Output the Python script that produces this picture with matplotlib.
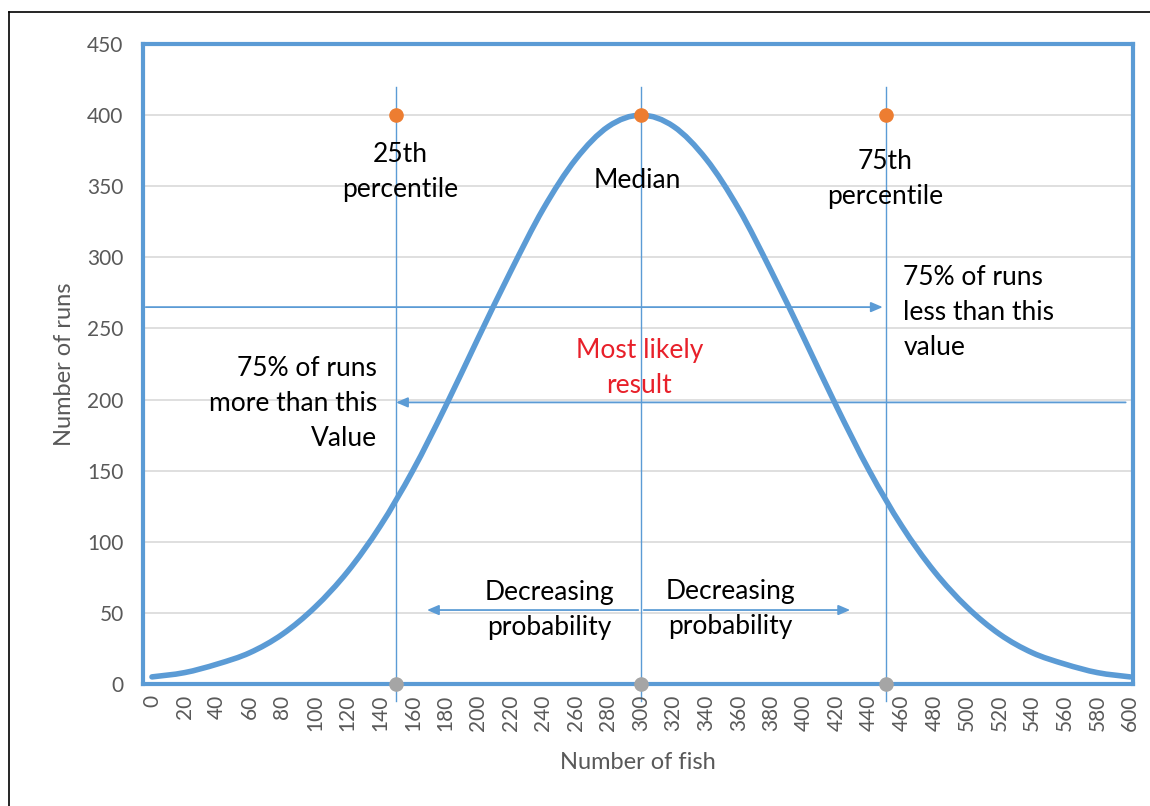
import matplotlib
matplotlib.use("Agg")
from matplotlib import pyplot as plt
from matplotlib.lines import Line2D
from matplotlib.path import Path
from matplotlib.patches import PathPatch
import numpy as np

# values
fish = list(range(0, 601, 20))
runs = [5, 8, 14, 22, 35, 54, 79, 111, 150, 195, 243, 290, 334, 369, 392, 400,
        392, 369, 334, 290, 243, 195, 150, 111, 79, 54, 35, 22, 14, 8, 5]
marker_x = [150, 300, 450]
top_y = [400, 400, 400]
bottom_y = [0, 0, 0]
y_ticks = list(range(0, 451, 50))

blue = '#5B9BD5'
grey_text = '#595959'

plt.rcParams['font.family'] = ['Lato', 'DejaVu Sans']

#smoothed line like excel (catmull-rom as bezier segments)
def smooth_path(xs, ys):
    p = np.column_stack([xs, ys]).astype(float)
    verts = [p[0]]
    codes = [Path.MOVETO]
    n = len(p)
    for i in range(n - 1):
        p0 = p[max(i - 1, 0)]
        p1 = p[i]
        p2 = p[i + 1]
        p3 = p[min(i + 2, n - 1)]
        c1 = p1 + (p2 - p0) / 6.0
        c2 = p2 - (p3 - p1) / 6.0
        verts += [c1, c2, p2]
        codes += [Path.CURVE4] * 3
    return Path(verts, codes)

fig = plt.figure(figsize=(11.5, 8.06), dpi=100)
ax = fig.add_axes([143/1150, 1 - 684/806, 990/1150, 640/806])

ax.set_xlim(-5.5, 601.8)
ax.set_ylim(0, 450)

#grid
for y in y_ticks[1:]:
    ax.axhline(y, color='#D9D9D9', lw=1.2, zorder=0)

#percentile lines
for x in marker_x:
    ax.plot([x, x], [-12, 420], color=blue, lw=1.0, clip_on=False, zorder=1)

ax.add_patch(PathPatch(smooth_path(fish, runs), facecolor='none', edgecolor=blue,
                       lw=4.0, capstyle='round', zorder=3))
ax.scatter(marker_x, top_y, s=90, color='#ED7D31', zorder=4)
ax.scatter(marker_x, bottom_y, s=90, color='#A5A5A5', zorder=4, clip_on=False)

#arrows
arr = dict(arrowstyle='-|>,head_length=0.7,head_width=0.3', color=blue, lw=1.3)
ax.annotate('', xy=(450, 265), xytext=(-5.5, 265), arrowprops=arr)
ax.annotate('', xy=(148, 198), xytext=(599, 198), arrowprops=arr)
ax.annotate('', xy=(167, 52), xytext=(300, 52), arrowprops=arr)
ax.annotate('', xy=(430, 52), xytext=(300, 52), arrowprops=arr)

fs = 19
ls = 1.5
ax.text(152, 360, '25th\npercentile', ha='center', va='center', fontsize=fs, linespacing=ls)
ax.text(298, 354, 'Median', ha='center', va='center', fontsize=fs)
ax.text(450, 355, '75th\npercentile', ha='center', va='center', fontsize=fs, linespacing=ls)
ax.text(461, 261, '75% of runs\nless than this\nvalue', ha='left', va='center', fontsize=fs, linespacing=ls)
ax.text(299, 222, 'Most likely\nresult', ha='center', va='center', fontsize=fs,
        color='#E8202A', linespacing=ls)
ax.text(138, 197, '75% of runs\nmore than this\nValue', ha='right', va='center', fontsize=fs, linespacing=ls)
ax.text(244, 52, 'Decreasing\nprobability', ha='center', va='center', fontsize=fs, linespacing=ls)
ax.text(355, 53, 'Decreasing\nprobability', ha='center', va='center', fontsize=fs, linespacing=ls)

ax.set_xticks(fish)
ax.set_xticklabels([str(v) for v in fish], rotation=90, fontsize=15, color=grey_text)
ax.set_yticks(y_ticks)
ax.set_yticklabels([str(v) for v in y_ticks], fontsize=15, color=grey_text)
ax.tick_params(axis='y', length=0, pad=14)
ax.tick_params(axis='x', length=0, pad=8)
ax.set_xlabel('Number of fish', fontsize=17, color=grey_text, labelpad=15)
ax.set_ylabel('Number of runs', fontsize=17, color=grey_text, labelpad=9)

for s in ax.spines.values():
    s.set_color(blue)
    s.set_linewidth(3)

#outer frame
fig.add_artist(Line2D([9/1150, 1], [1 - 12/806, 1 - 12/806], color='black', lw=1.2))
fig.add_artist(Line2D([9/1150, 9/1150], [0, 1 - 12/806], color='black', lw=1.2))

fig.savefig('out.png', dpi=100)
